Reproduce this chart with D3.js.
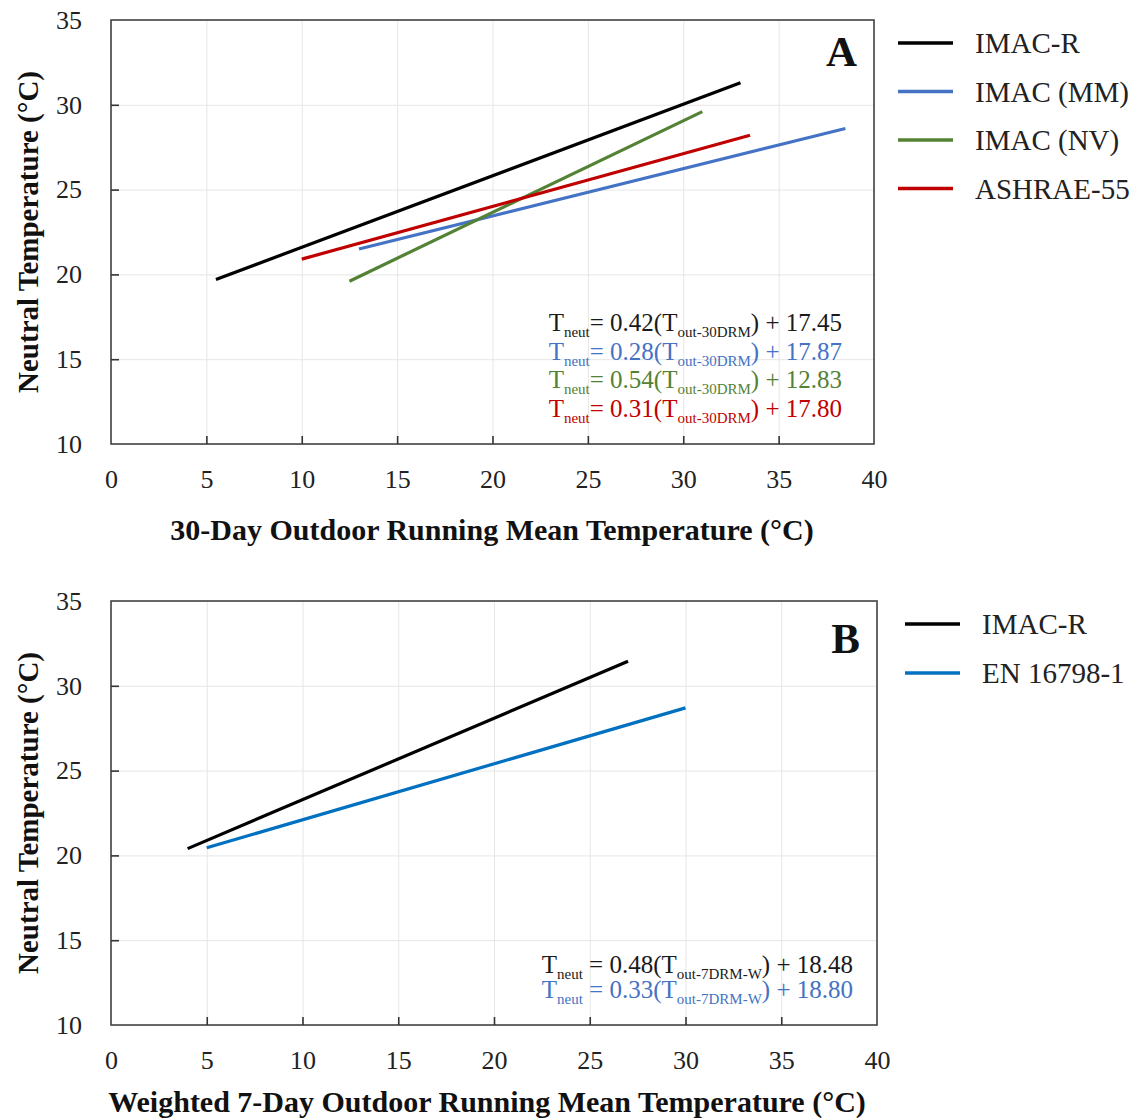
<!DOCTYPE html>
<html>
<head>
<meta charset="utf-8">
<script src="https://cdn.jsdelivr.net/npm/d3@7"></script>
<style>
  html, body { margin: 0; padding: 0; background: #fff; }
  svg { display: block; }
  text { font-family: "Liberation Serif", "Times New Roman", serif; }
</style>
</head>
<body>
<svg id="chart" width="1137" height="1118"></svg>
<script>
// ---------- DATA ----------
const xTicks = [0, 5, 10, 15, 20, 25, 30, 35, 40];
const yTicks = [10, 15, 20, 25, 30, 35];

// Panel A (30-day running mean)
const seriesA = ["IMAC-R", "IMAC (MM)", "IMAC (NV)", "ASHRAE-55"];
const startXA = [5.5, 13.0, 12.5, 10.0];
const startYA = [19.7, 21.5, 19.6, 20.9];
const endXA   = [33.0, 38.5, 31.0, 33.5];
const endYA   = [31.3, 28.6, 29.6, 28.2];
const colorsA = ["#000000", "#4472C4", "#548235", "#C00000"];
const eqCoefA = ["0.42", "0.28", "0.54", "0.31"];
const eqIntA  = ["17.45", "17.87", "12.83", "17.80"];
const eqColA  = ["#1a1a1a", "#4472C4", "#548235", "#C00000"];

// Panel B (weighted 7-day running mean)
const seriesB = ["IMAC-R", "EN 16798-1"];
const startXB = [4.0, 5.0];
const startYB = [20.4, 20.45];
const endXB   = [27.0, 30.0];
const endYB   = [31.45, 28.7];
const colorsB = ["#000000", "#0070C0"];
const eqCoefB = ["0.48", "0.33"];
const eqIntB  = ["18.48", "18.80"];
const eqColB  = ["#1a1a1a", "#4472C4"];

// ---------- DRAW ----------
const svg = d3.select("#chart");

function panel(cfg) {
  const x = d3.scaleLinear().domain([0, 40]).range([cfg.left, cfg.right]);
  const y = d3.scaleLinear().domain([10, 35]).range([cfg.bottom, cfg.top]);
  const g = svg.append("g");
  const h = cfg.bottom - cfg.top, w = cfg.right - cfg.left;

  // grid
  g.append("g").attr("transform", `translate(0,${cfg.bottom})`)
    .call(d3.axisBottom(x).tickValues(xTicks).tickSize(-h).tickFormat(""))
    .call(s => s.select(".domain").remove())
    .call(s => s.selectAll("line").attr("stroke", "#e6e6e6").attr("stroke-width", 1));
  g.append("g").attr("transform", `translate(${cfg.left},0)`)
    .call(d3.axisLeft(y).tickValues(yTicks).tickSize(-w).tickFormat(""))
    .call(s => s.select(".domain").remove())
    .call(s => s.selectAll("line").attr("stroke", "#e6e6e6").attr("stroke-width", 1));

  // data lines
  cfg.series.forEach((name, i) => {
    const pts = [[cfg.sx[i], cfg.sy[i]], [cfg.ex[i], cfg.ey[i]]];
    g.append("path")
      .datum(pts)
      .attr("d", d3.line().x(d => x(d[0])).y(d => y(d[1])))
      .attr("fill", "none")
      .attr("stroke", cfg.colors[i])
      .attr("stroke-width", 3.2);
  });

  // frame
  g.append("rect")
    .attr("x", cfg.left).attr("y", cfg.top)
    .attr("width", w).attr("height", h)
    .attr("fill", "none").attr("stroke", "#444").attr("stroke-width", 1.6);

  // axes (inward ticks)
  const xa = g.append("g").attr("transform", `translate(0,${cfg.bottom})`)
    .call(d3.axisBottom(x).tickValues(xTicks).tickSizeInner(-8).tickSizeOuter(0).tickPadding(26));
  xa.select(".domain").remove();
  xa.selectAll("line").attr("stroke", "#333").attr("stroke-width", 1.6);
  xa.selectAll("text").attr("font-size", 26).attr("fill", "#222")
    .attr("font-family", "Liberation Serif, serif").attr("dy", "0.71em");
  xa.selectAll(".tick").filter(d => d === 0 || d === 40).select("line").remove();

  const ya = g.append("g").attr("transform", `translate(${cfg.left},0)`)
    .call(d3.axisLeft(y).tickValues(yTicks).tickSizeInner(-8).tickSizeOuter(0).tickPadding(29));
  ya.select(".domain").remove();
  ya.selectAll("line").attr("stroke", "#333").attr("stroke-width", 1.6);
  ya.selectAll("text").attr("font-size", 26).attr("fill", "#222")
    .attr("font-family", "Liberation Serif, serif");
  ya.selectAll(".tick").filter(d => d === 10 || d === 35).select("line").remove();

  // axis titles
  svg.append("text")
    .attr("x", cfg.xTitleX).attr("y", cfg.xTitleY)
    .attr("text-anchor", "middle").attr("font-weight", "bold").attr("font-size", 30)
    .attr("fill", "#111").text(cfg.xTitle);
  svg.append("text")
    .attr("transform", `translate(38,${(cfg.top + cfg.bottom) / 2}) rotate(-90)`)
    .attr("text-anchor", "middle").attr("font-weight", "bold").attr("font-size", 29)
    .attr("fill", "#111").text("Neutral Temperature (°C)");

  // panel letter
  svg.append("text")
    .attr("x", cfg.right - 17).attr("y", cfg.letterY)
    .attr("text-anchor", "end").attr("font-weight", "bold").attr("font-size", 43)
    .attr("fill", "#111").text(cfg.letter);

  // legend
  cfg.series.forEach((name, i) => {
    const ly = cfg.legY + i * cfg.legStep;
    svg.append("line")
      .attr("x1", cfg.legX).attr("x2", cfg.legX + 55)
      .attr("y1", ly).attr("y2", ly)
      .attr("stroke", cfg.colors[i]).attr("stroke-width", 3.5);
    svg.append("text")
      .attr("x", cfg.legX + 77).attr("y", ly + 10)
      .attr("font-size", 29).attr("fill", "#222").text(name);
  });

  // equations
  cfg.coef.forEach((c, i) => {
    const t = svg.append("text")
      .attr("x", cfg.eqX).attr("y", cfg.eqY + i * cfg.eqStep)
      .attr("text-anchor", "end").attr("font-size", 25)
      .attr("fill", cfg.eqCol[i]);
    t.append("tspan").text("T");
    t.append("tspan").attr("font-size", 15).attr("dy", 6).text("neut");
    t.append("tspan").attr("dy", -6).text(cfg.eqSep + "= " + c + "(T");
    t.append("tspan").attr("font-size", 15).attr("dy", 6).text(cfg.sub);
    t.append("tspan").attr("dy", -6).text(") + " + cfg.intc[i]);
  });
}

panel({
  left: 111, right: 874, top: 20, bottom: 444,
  series: seriesA, sx: startXA, sy: startYA, ex: endXA, ey: endYA, colors: colorsA,
  xTitle: "30-Day Outdoor Running Mean Temperature (°C)", xTitleX: 492, xTitleY: 540,
  letter: "A", letterY: 66,
  legX: 898, legY: 43, legStep: 48.5,
  coef: eqCoefA, intc: eqIntA, eqCol: eqColA, sub: "out-30DRM", eqSep: "",
  eqX: 842, eqY: 331, eqStep: 28.5
});

panel({
  left: 111, right: 877, top: 601, bottom: 1025,
  series: seriesB, sx: startXB, sy: startYB, ex: endXB, ey: endYB, colors: colorsB,
  xTitle: "Weighted 7-Day Outdoor Running Mean Temperature (°C)", xTitleX: 487, xTitleY: 1112,
  letter: "B", letterY: 653,
  legX: 905, legY: 624, legStep: 49,
  coef: eqCoefB, intc: eqIntB, eqCol: eqColB, sub: "out-7DRM-W", eqSep: " ",
  eqX: 853, eqY: 973, eqStep: 25
});
</script>
</body>
</html>
